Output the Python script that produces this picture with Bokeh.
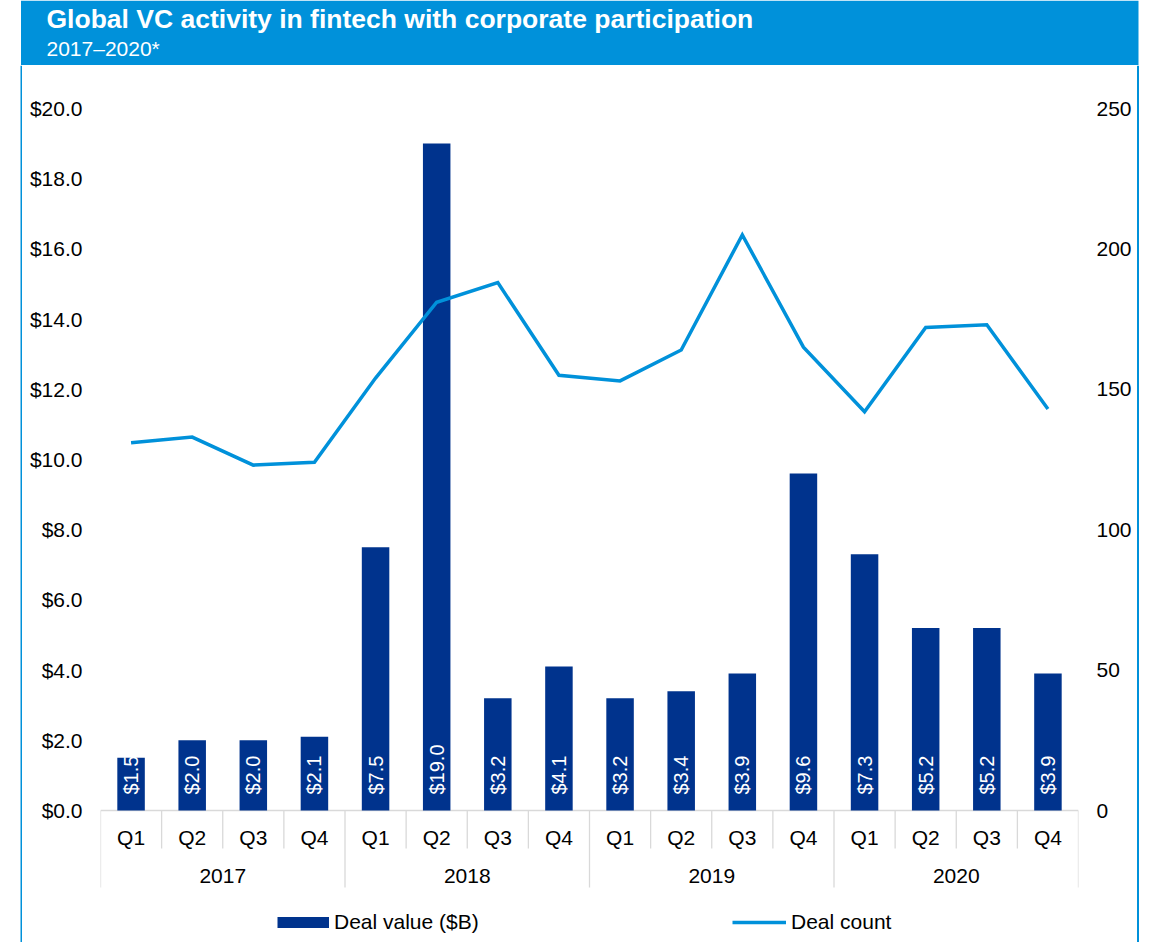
import numpy as np
from bokeh.plotting import figure
from bokeh.layouts import column, row
from bokeh.models import (Range1d, LinearAxis, FixedTicker, NumeralTickFormatter,
                          Legend, LegendItem, ColumnDataSource)
from bokeh.embed import file_html
from bokeh.resources import INLINE
from bokeh.core.properties import value

# ---------------- data ----------------
years = ["2017", "2018", "2019", "2020"]
quarters = ["Q1", "Q2", "Q3", "Q4"]
deal_value = [1.5, 2.0, 2.0, 2.1, 7.5, 19.0, 3.2, 4.1, 3.2, 3.4, 3.9, 9.6, 7.3, 5.2, 5.2, 3.9]
deal_count = [131, 133, 123, 124, 154, 181, 188, 155, 153, 164, 205, 165, 142, 172, 173, 143]
value_ticks = [0, 2, 4, 6, 8, 10, 12, 14, 16, 18, 20]
count_ticks = [0, 50, 100, 150, 200, 250]
title_text = "Global VC activity in fintech with corporate participation"
subtitle_text = "2017\u20132020*"
legend_labels = ["Deal value ($B)", "Deal count"]

# ---------------- styles / layout ----------------
BAR = "#00338D"
BLUE = "#0091DA"
SEP = "#d9d9d9"
FONT = "Liberation Sans"
PAGE_W, PAGE_H = 1150, 942
HEAD_H = 65
BODY_H = PAGE_H - HEAD_H
L_STRIP, R_STRIP_X = 22, 1136          # body strips (page x)
FRAME_L, FRAME_R = 100, 1078           # plot frame (page x)
PX = 35.1                              # px per $1B
ZERO_Y = 810 - HEAD_H                  # body y (from top) of value 0
y_start = -(BODY_H - ZERO_Y) / PX
y_end = ZERO_Y / PX
ratio = count_ticks[-1] / value_ticks[-1]


def bare(width, height, xr, yr):
    f = figure(width=width, height=height, output_backend="svg", toolbar_location=None,
               x_range=xr, y_range=yr, x_axis_location=None, y_axis_location=None,
               min_border=0)
    f.outline_line_color = None
    f.xgrid.visible = False
    f.ygrid.visible = False
    f.background_fill_color = "white"
    f.border_fill_color = "white"
    return f


# ---------------- header ----------------
head = bare(PAGE_W, HEAD_H, Range1d(0, PAGE_W), Range1d(HEAD_H, 0))
head.quad(left=[20.5], right=[1138], top=[0], bottom=[HEAD_H], fill_color=BLUE, line_color=None)
head.text(x=[46], y=[18.7], text=[title_text], text_color="white", text_font=value(FONT),
          text_font_size="26.5px", text_font_style="bold", text_baseline="middle")
head.text(x=[46], y=[47.8], text=[subtitle_text], text_color="white", text_font=value(FONT),
          text_font_size="21px", text_baseline="middle")

# ---------------- side strips (frame borders) ----------------
lstrip = bare(L_STRIP, BODY_H, Range1d(0, L_STRIP), Range1d(0, BODY_H))
lstrip.quad(left=[20], right=[22], bottom=[0], top=[BODY_H], fill_color=BLUE, line_color=None)
rstrip = bare(PAGE_W - R_STRIP_X, BODY_H, Range1d(R_STRIP_X, PAGE_W), Range1d(0, BODY_H))
rstrip.quad(left=[1136.5], right=[1138.5], bottom=[0], top=[BODY_H], fill_color=BLUE,
            line_color=None)

# ---------------- chart ----------------
nq = len(quarters)
n = len(years) * nq
idx = np.arange(n)
q_labels = [q for y in years for q in quarters]
year_pos = [g * nq + (nq - 1) / 2 for g in range(len(years))]
bar_labels = ["${:.1f}".format(v) for v in deal_value]

p = figure(width=R_STRIP_X - L_STRIP, height=BODY_H, output_backend="svg",
           toolbar_location=None,
           x_range=Range1d(-0.5, n - 0.5), y_range=Range1d(y_start, y_end),
           x_axis_location=None,
           min_border_left=FRAME_L - L_STRIP, min_border_right=R_STRIP_X - FRAME_R,
           min_border_top=0, min_border_bottom=0)
p.outline_line_color = None
p.xgrid.visible = False
p.ygrid.visible = False
p.background_fill_color = "white"
p.border_fill_color = "white"
p.extra_y_ranges = {"count": Range1d(y_start * ratio, y_end * ratio)}


def style_axis(ax):
    ax.axis_line_color = None
    ax.major_tick_line_color = None
    ax.minor_tick_line_color = None
    ax.major_tick_out = 0
    ax.major_tick_in = 0
    ax.major_label_standoff = 18
    ax.major_label_text_font = FONT
    ax.major_label_text_font_size = "21px"
    ax.major_label_text_color = "black"


lax = p.yaxis[0]
lax.ticker = FixedTicker(ticks=value_ticks)
lax.formatter = NumeralTickFormatter(format="$0.0")
style_axis(lax)

rax = LinearAxis(y_range_name="count", ticker=FixedTicker(ticks=count_ticks))
style_axis(rax)
p.add_layout(rax, "right")

# separators & baseline
q_sep = [i - 0.5 for i in range(n + 1) if i % nq != 0]
y_sep = [i - 0.5 for i in range(n + 1) if i % nq == 0]
p.segment(x0=q_sep, y0=0, x1=q_sep, y1=-38 / PX, line_color=SEP, line_width=1.3)
p.segment(x0=y_sep, y0=0, x1=y_sep, y1=-77 / PX, line_color=SEP, line_width=1.3)
p.segment(x0=[-0.5], y0=[0], x1=[n - 0.5], y1=[0], line_color=SEP, line_width=1.3)

# bars
src = ColumnDataSource(dict(x=idx, top=deal_value, lab=bar_labels))
p.vbar(x="x", top="top", bottom=0, width=0.45, source=src, fill_color=BAR, line_color=None)
p.text(x="x", y=16 / PX, text="lab", source=src, angle=np.pi / 2,
       text_align="left", text_baseline="middle", text_color="white",
       text_font=value(FONT), text_font_size="20px")

# line
p.line(x=idx, y=deal_count, y_range_name="count", line_color=BLUE, line_width=3.5,
       line_join="miter")

# category labels
p.text(x=idx, y=-27 / PX, text=q_labels, text_align="center", text_baseline="middle",
       text_color="black", text_font=value(FONT), text_font_size="21px")
p.text(x=year_pos, y=-65 / PX, text=years, text_align="center", text_baseline="middle",
       text_color="black", text_font=value(FONT), text_font_size="21px")

# legends (proxy renderers draw nothing in the plot)
r_bar_leg = p.line(x=[0], y=[np.nan], line_color=BAR, line_width=11, line_cap="butt")
r_line_leg = p.line(x=[0], y=[np.nan], line_color=BLUE, line_width=3.5, line_cap="butt")
for lab, r, lxpos, gw in ((legend_labels[0], r_bar_leg, 277 - FRAME_L, 52),
                          (legend_labels[1], r_line_leg, 732 - FRAME_L, 54)):
    lg = Legend(items=[LegendItem(label=lab, renderers=[r])], location=(lxpos, PAGE_H - 934),
                orientation="horizontal", padding=0, margin=0, border_line_color=None,
                background_fill_alpha=0, glyph_width=gw, glyph_height=22, label_height=22,
                label_standoff=5, label_text_font=FONT, label_text_font_size="21px",
                label_text_color="black")
    p.add_layout(lg)

layout = column(head, row(lstrip, p, rstrip))
open("out.html", "w").write(file_html(layout, INLINE))
